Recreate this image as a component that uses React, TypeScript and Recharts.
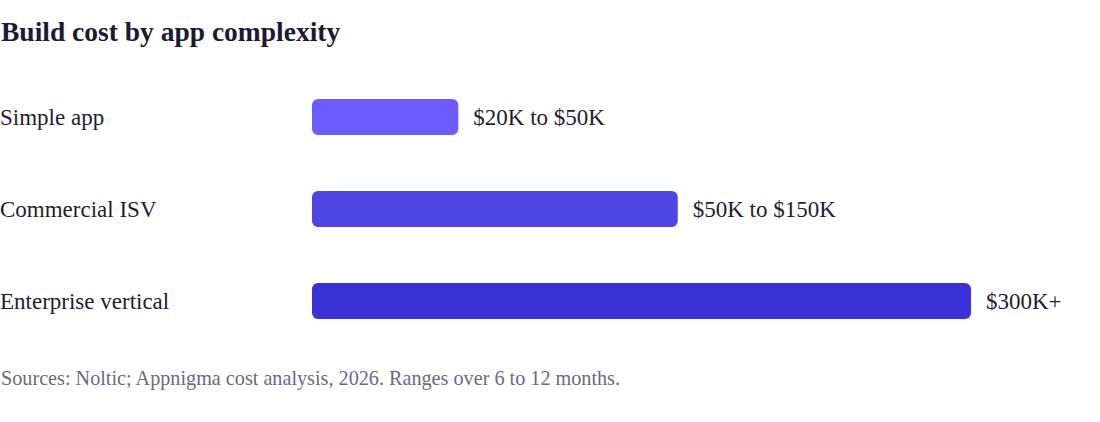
import React from "react";
import { BarChart, Bar, XAxis, YAxis, Cell, LabelList } from "recharts";

const categories = ["Simple app", "Commercial ISV", "Enterprise vertical"];
const relativeCost = [22.2, 55.5, 100];
const rangeLabels = ["$20K to $50K", "$50K to $150K", "$300K+"];
const barColors = ["#6c5cff", "#4f45e3", "#3c31d7"];

const data = categories.map((name, i) => ({
  name,
  value: relativeCost[i],
  label: rangeLabels[i],
}));

const SERIF = '"Liberation Serif", "Times New Roman", serif';

const CategoryTick = (props: any) => {
  const { y, payload } = props;
  return (
    <text x={0} y={y + 7.5} fill="#1f1d30" fontFamily={SERIF} fontSize={23} textAnchor="start">
      {payload.value}
    </text>
  );
};

const ValueLabel = (props: any) => {
  const { x, y, width, height, value } = props;
  return (
    <text
      x={Number(x) + Number(width) + 15}
      y={Number(y) + Number(height) / 2 + 7.5}
      fill="#1f1d30"
      fontFamily={SERIF}
      fontSize={23}
      textAnchor="start"
    >
      {value}
    </text>
  );
};

export default function App() {
  return (
    <div style={{ position: "absolute", left: 0, top: 0, width: 1100, height: 422, background: "#ffffff" }}>
      <svg width={1100} height={422} style={{ position: "absolute", left: 0, top: 0 }}>
        <text x={1} y={41} fontFamily={SERIF} fontWeight="bold" fontSize={27.5} fill="#1c1a33">
          Build cost by app complexity
        </text>
        <text x={1} y={385} fontFamily={SERIF} fontSize={20.2} fill="#6b6a80">
          Sources: Noltic; Appnigma cost analysis, 2026. Ranges over 6 to 12 months.
        </text>
      </svg>
      <div style={{ position: "absolute", left: 0, top: 71 }}>
        <BarChart
          width={1100}
          height={276}
          data={data}
          layout="vertical"
          margin={{ top: 0, right: 129, bottom: 0, left: 0 }}
        >
          <XAxis type="number" domain={[0, 100]} hide />
          <YAxis
            type="category"
            dataKey="name"
            width={312}
            axisLine={false}
            tickLine={false}
            tick={<CategoryTick />}
          />
          <Bar dataKey="value" barSize={36} radius={[6, 6, 6, 6]} isAnimationActive={false}>
            {data.map((d, i) => (
              <Cell key={d.name} fill={barColors[i]} />
            ))}
            <LabelList dataKey="label" content={<ValueLabel />} />
          </Bar>
        </BarChart>
      </div>
    </div>
  );
}
